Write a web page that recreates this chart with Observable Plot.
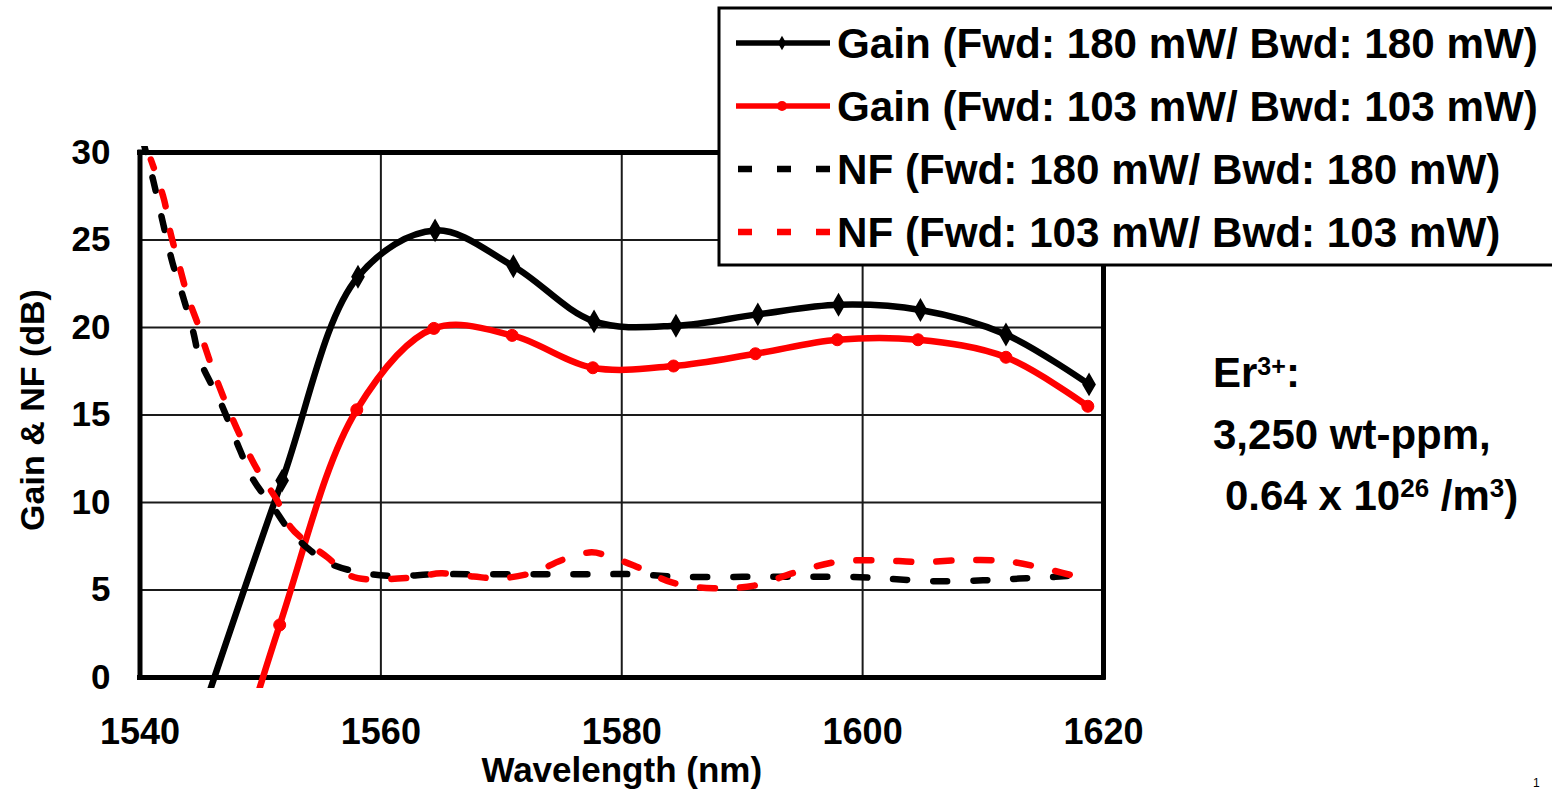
<!DOCTYPE html>
<html>
<head>
<meta charset="utf-8">
<script src="https://cdn.jsdelivr.net/npm/d3@7"></script>
<script src="https://cdn.jsdelivr.net/npm/@observablehq/plot@0.6"></script>
<style>
  html, body { margin: 0; padding: 0; background: #fff; overflow: hidden; }
  #chart svg { display: block; }
</style>
</head>
<body>
<div id="chart"></div>
<script>
// ---------- data ----------
const xTicks = [1540, 1560, 1580, 1600, 1620];
const yTicks = [0, 5, 10, 15, 20, 25, 30];
const xGrid = [1560, 1580, 1600];
const yGrid = [5, 10, 15, 20, 25];

const seriesLabels = [
  "Gain (Fwd: 180 mW/ Bwd: 180 mW)",
  "Gain (Fwd: 103 mW/ Bwd: 103 mW)",
  "NF (Fwd: 180 mW/ Bwd: 180 mW)",
  "NF (Fwd: 103 mW/ Bwd: 103 mW)"
];

// Gain, 180 mW pumps (black, diamonds); first point lies below the plot and is clipped
const gainHiWl  = [1545.0, 1551.8, 1558.1, 1564.5, 1571.0, 1577.7, 1584.5, 1591.3, 1598.0, 1604.8, 1611.9, 1618.8];
const gainHiVal = [-2.4, 11.25, 22.9, 25.55, 23.5, 20.35, 20.1, 20.75, 21.3, 21.0, 19.6, 16.75];

// Gain, 103 mW pumps (red, circles)
const gainLoWl  = [1545.0, 1551.6, 1558.0, 1564.4, 1570.9, 1577.6, 1584.3, 1591.1, 1597.9, 1604.6, 1611.9, 1618.7];
const gainLoVal = [-12.0, 3.0, 15.3, 19.95, 19.55, 17.7, 17.8, 18.5, 19.3, 19.3, 18.3, 15.5];

// NF, 180 mW pumps (black dashed)
const nfHiWl  = [1540.2, 1541.1, 1542.0, 1542.7, 1543.6, 1544.4, 1545.0, 1546.7, 1548.3, 1549.4, 1551.1, 1552.2, 1553.9, 1555.8, 1558.3, 1561.0, 1564.5, 1568.0, 1572.0, 1575.0, 1578.0, 1581.0, 1585.0, 1590.0, 1595.0, 1599.0, 1602.0, 1606.0, 1610.0, 1613.0, 1616.0, 1619.0];
const nfHiVal = [30.8, 28.4, 25.7, 23.7, 21.7, 19.8, 18.1, 15.7, 13.0, 11.3, 9.7, 8.6, 7.4, 6.5, 6.0, 5.8, 5.9, 5.9, 5.9, 5.9, 5.9, 5.9, 5.75, 5.75, 5.75, 5.75, 5.65, 5.5, 5.55, 5.65, 5.75, 5.9];

// NF, 103 mW pumps (red dashed)
const nfLoWl  = [1540.9, 1542.0, 1542.5, 1543.2, 1544.0, 1544.8, 1545.3, 1546.1, 1547.3, 1548.6, 1549.8, 1551.4, 1552.5, 1553.9, 1555.5, 1557.5, 1559.2, 1561.4, 1563.0, 1565.0, 1567.7, 1569.8, 1572.7, 1575.0, 1577.5, 1579.0, 1581.0, 1584.3, 1587.6, 1591.0, 1594.4, 1597.8, 1601.3, 1604.7, 1608.2, 1610.9, 1612.5, 1615.3, 1618.4];
const nfLoVal = [29.6, 27.3, 25.5, 23.7, 21.7, 20.2, 19.1, 17.5, 15.4, 13.4, 11.8, 10.1, 8.6, 7.7, 6.9, 5.8, 5.6, 5.65, 5.75, 5.95, 5.77, 5.66, 6.0, 6.7, 7.15, 6.9, 6.4, 5.4, 5.1, 5.25, 6.0, 6.6, 6.7, 6.6, 6.7, 6.7, 6.6, 6.2, 5.65];

// ---------- build ----------
const rows = (wl, v) => wl.map((x, i) => ({x, y: v[i]}));
const gainHi = rows(gainHiWl, gainHiVal);
const gainLo = rows(gainLoWl, gainLoVal);
const nfHi = rows(nfHiWl, nfHiVal);
const nfLo = rows(nfLoWl, nfLoVal);

const FONT = '"Liberation Sans", Arial, Helvetica, sans-serif';
const RED = "#ff0000";
const LW = 6.5;

const plot = Plot.plot({
  width: 1552,
  height: 789,
  marginLeft: 139.5,
  marginRight: 449,
  marginTop: 145.9,
  marginBottom: 101,
  x: {domain: [1540, 1620], label: null},
  y: {domain: [-0.63, 30.35], label: null},
  style: {fontFamily: FONT, fontWeight: "bold", color: "#000", background: "#fff", overflow: "visible"},
  marks: [
    // grid
    Plot.ruleX(xGrid, {x: d => d, y1: 0, y2: 30, stroke: "#1a1a1a", strokeWidth: 2}),
    Plot.ruleY(yGrid, {y: d => d, x1: 1540, x2: 1620, stroke: "#1a1a1a", strokeWidth: 2}),
    // frame
    Plot.ruleX([1540, 1620], {x: d => d, y1: 0, y2: 30, stroke: "#000", strokeWidth: 5, strokeLinecap: "square"}),
    Plot.ruleY([0, 30], {y: d => d, x1: 1540, x2: 1620, stroke: "#000", strokeWidth: 5, strokeLinecap: "square"}),
    // gain curves
    Plot.line(gainHi, {x: "x", y: "y", curve: "catmull-rom", stroke: "#000", strokeWidth: LW, clip: true}),
    Plot.dot(gainHi, {x: "x", y: "y", symbol: "diamond", r: 6, fill: "#000", stroke: "#000", strokeWidth: 2, clip: true}),
    Plot.line(gainLo, {x: "x", y: "y", curve: "catmull-rom", stroke: RED, strokeWidth: LW, clip: true}),
    Plot.dot(gainLo, {x: "x", y: "y", r: 6, fill: RED, stroke: RED, strokeWidth: 1, clip: true}),
    // NF curves
    Plot.line(nfHi, {x: "x", y: "y", curve: "catmull-rom", stroke: "#000", strokeWidth: LW, strokeDasharray: "14,26", clip: true}),
    Plot.line(nfLo, {x: "x", y: "y", curve: "catmull-rom", stroke: RED, strokeWidth: LW, strokeDasharray: "15,25", strokeDashoffset: 6, clip: true}),
    // axes
    Plot.axisX(xTicks, {tickSize: 0, tickPadding: 30, fontSize: 36, fontWeight: "bold", label: null, tickFormat: d => String(d)}),
    Plot.axisY(yTicks, {tickSize: 0, tickPadding: 29.5, fontSize: 35, fontWeight: "bold", label: null, tickFormat: d => String(d)}),
    Plot.text(["Wavelength (nm)"], {text: d => d, frameAnchor: "bottom", lineAnchor: "middle", dy: 82, fontSize: 35, fontWeight: "bold"})
  ]
});

document.getElementById("chart").appendChild(plot);

// ---------- overlays: y title, legend, annotation ----------
const svg = d3.select(plot);

svg.append("text")
  .attr("transform", "translate(44,410) rotate(-90)")
  .attr("text-anchor", "middle")
  .attr("font-family", FONT).attr("font-weight", "bold").attr("font-size", 34)
  .attr("fill", "#000")
  .text("Gain & NF (dB)");

// legend
const lg = svg.append("g").attr("font-family", FONT).attr("font-weight", "bold").attr("text-anchor", "start");
lg.append("rect")
  .attr("x", 719).attr("y", 8).attr("width", 900).attr("height", 257)
  .attr("fill", "#fff").attr("stroke", "#000").attr("stroke-width", 3);

const legendStyle = [
  {color: "#000", dash: null, symbol: d3.symbolDiamond, size: 60},
  {color: RED, dash: null, symbol: d3.symbolCircle, size: 80},
  {color: "#000", dash: "14,25", symbol: null},
  {color: RED, dash: "14,25", symbol: null}
];
const rowY = [43, 106, 169, 232];
seriesLabels.forEach((label, i) => {
  const s = legendStyle[i];
  const y = rowY[i];
  const ln = lg.append("line")
    .attr("x1", s.dash ? 738 : 736).attr("x2", 830)
    .attr("y1", y).attr("y2", y)
    .attr("stroke", s.color).attr("stroke-width", s.dash ? 6.5 : 5.5);
  if (s.dash) ln.attr("stroke-dasharray", s.dash);
  if (s.symbol) {
    lg.append("path")
      .attr("d", d3.symbol(s.symbol, s.size)())
      .attr("transform", `translate(782,${y})`)
      .attr("fill", s.color);
  }
  lg.append("text")
    .attr("x", 837).attr("y", y + 14.5)
    .attr("text-anchor", "start")
    .attr("font-size", 42.2).attr("fill", "#000")
    .text(label);
});

// annotation
const an = svg.append("g").attr("font-family", FONT).attr("font-weight", "bold").attr("font-size", 42).attr("fill", "#000").attr("text-anchor", "start");
const t1 = an.append("text").attr("x", 1213).attr("y", 387).attr("text-anchor", "start");
t1.append("tspan").text("Er");
t1.append("tspan").attr("font-size", 25).attr("dy", -12).text("3+");
t1.append("tspan").attr("dy", 12).text(":");
an.append("text").attr("x", 1213).attr("y", 449).attr("text-anchor", "start").text("3,250 wt-ppm,");
const t3 = an.append("text").attr("x", 1225).attr("y", 510).attr("text-anchor", "start");
t3.append("tspan").text("0.64 x 10");
t3.append("tspan").attr("font-size", 26).attr("dy", -13).text("26");
t3.append("tspan").attr("dy", 13).text(" /m");
t3.append("tspan").attr("font-size", 26).attr("dy", -13).text("3");
t3.append("tspan").attr("dy", 13).text(")");

// page number at the lower right
svg.append("text").attr("x", 1533).attr("y", 787).attr("text-anchor", "start")
  .attr("font-family", FONT).attr("font-weight", "normal").attr("font-size", 12).attr("fill", "#000").text("1");
</script>
</body>
</html>
